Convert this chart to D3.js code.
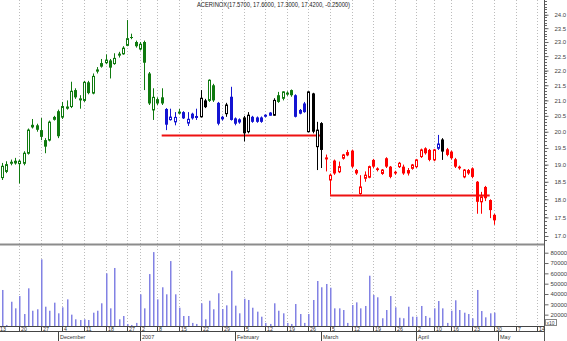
<!DOCTYPE html>
<html><head><meta charset="utf-8">
<script src="https://cdn.jsdelivr.net/npm/d3@7"></script>
<style>
html,body{margin:0;padding:0;background:#fff;}
svg{display:block;font-family:"Liberation Sans",Arial,sans-serif;}
</style></head><body>
<svg id="c" width="567" height="341"></svg>
<script>
const title = "ACERINOX(17.5700, 17.6000, 17.3000, 17.4200, -0.25000)";
const calendarStart = "2006-11-13", calendarEnd = "2007-05-18", dataStart = "2006-11-14";
const holidays = ["2006-12-25","2006-12-26","2007-01-01","2007-04-06","2007-04-09"];
const monthNames = ["2007","February","March","April","May","June","July","August","September","October","November","December"];

const open = [18.62,18.80,19.05,19.05,19.03,19.04,19.34,20.15,20.20,20.05,
19.74,19.74,20.39,20.65,20.46,20.80,20.80,21.34,21.03,21.00,
21.60,21.24,21.98,22.15,22.27,22.35,22.24,22.55,22.58,22.88,
23.18,23.00,22.75,23.00,21.90,20.69,21.04,21.10,20.72,20.38,
20.31,20.60,20.62,20.27,20.57,20.46,20.47,21.00,21.00,21.50,
20.92,20.47,20.57,21.12,20.42,20.39,20.45,20.00,20.47,20.45,
20.45,20.50,20.52,20.52,21.17,21.07,21.22,21.34,21.17,20.69,
20.90,20.00,21.23,19.54,20.27,19.18,18.55,19.12,18.79,19.19,
19.29,19.42,18.84,18.16,18.60,18.63,19.14,18.89,18.74,19.19,
18.94,18.79,18.94,18.94,18.84,18.89,18.94,19.24,19.49,19.44,
19.14,19.49,19.76,19.46,19.39,19.16,18.94,18.64,18.84,18.89,
18.50,17.93,18.35,17.98,17.57];
const high = [19.05,19.10,19.15,19.20,19.15,19.40,20.10,20.40,20.25,20.43,
19.80,20.35,20.50,20.70,20.95,21.00,21.62,21.40,21.17,21.65,
21.65,21.90,22.12,22.40,22.56,22.40,22.60,22.65,22.85,23.80,
23.30,23.05,23.00,23.05,21.95,21.40,21.10,21.40,20.75,20.73,
20.62,20.72,20.65,20.62,20.60,20.73,21.34,21.05,21.70,21.55,
20.95,20.50,20.92,21.45,20.45,20.42,20.50,20.62,20.50,20.48,
20.48,20.55,20.62,21.07,21.28,21.30,21.30,21.36,21.20,20.72,
20.95,21.30,21.25,20.31,20.30,19.30,18.74,19.15,19.09,19.32,
19.44,19.45,18.87,18.69,18.80,18.97,19.17,18.92,18.87,19.22,
18.96,18.82,19.08,19.00,18.90,19.02,19.17,19.48,19.52,19.47,
19.47,19.90,19.80,19.50,19.42,19.20,18.97,18.87,18.87,18.92,
18.52,18.21,18.38,18.00,17.60];
const low = [18.55,18.75,18.98,19.00,18.45,18.98,19.30,20.10,20.00,19.74,
19.34,19.70,20.35,19.80,20.40,20.70,20.75,21.05,20.73,20.95,
21.20,21.20,21.90,22.10,22.22,21.73,22.20,22.45,22.55,22.85,
23.10,22.80,22.70,21.34,20.85,20.37,20.85,20.85,20.05,20.35,
20.20,20.55,20.40,20.18,20.38,20.37,20.45,20.75,20.95,20.95,
20.20,20.35,20.47,20.35,20.20,20.25,19.70,19.95,20.28,20.28,
20.28,20.45,20.50,20.50,20.92,21.00,21.15,21.12,20.45,20.55,
20.60,19.98,19.95,18.84,18.90,18.80,18.13,18.70,18.75,19.15,
19.25,18.90,18.70,18.13,18.50,18.60,18.90,18.80,18.70,18.90,
18.60,18.70,18.90,18.70,18.68,18.85,18.90,19.20,19.30,19.10,
19.10,19.44,19.14,19.25,19.15,18.90,18.85,18.60,18.70,18.60,
17.60,17.60,17.95,17.48,17.30];
const close = [18.95,19.00,19.07,19.10,19.10,19.34,20.05,20.20,20.06,19.84,
19.54,20.30,20.45,19.86,20.80,20.73,21.30,21.10,21.05,21.60,
21.24,21.80,22.02,22.24,22.36,22.10,22.42,22.57,22.78,23.12,
23.15,22.85,22.92,22.27,20.90,21.10,20.90,20.90,20.22,20.46,
20.45,20.62,20.42,20.39,20.42,20.48,21.07,20.78,21.67,21.00,
20.25,20.39,20.85,20.37,20.25,20.29,19.95,20.52,20.31,20.31,
20.31,20.52,20.59,21.00,20.95,21.28,21.24,21.17,20.47,20.57,
20.62,21.28,20.00,20.05,19.44,19.20,18.69,18.74,18.94,19.29,
19.36,18.94,18.74,18.35,18.69,18.94,18.94,18.84,18.84,18.94,
18.64,18.74,19.04,18.74,18.74,18.99,19.14,19.44,19.34,19.14,
19.44,19.62,19.39,19.29,19.19,18.94,18.89,18.84,18.74,18.64,
17.93,18.07,18.03,17.70,17.42];
const volume = [43900,10000,32500,26100,38000,20600,45500,23800,25200,73600,
27700,23800,31600,21300,27100,34800,20000,15500,14800,15500,
14800,21900,23800,31000,60000,26100,65200,15500,18700,11000,
10000,12000,39700,26100,59300,80600,34800,46500,39700,71900,
39700,26700,18700,18700,12000,11000,31000,15500,33500,25200,
40700,25500,29000,62500,28700,21300,35400,34200,26700,22900,
18000,12000,11000,31000,23800,21300,12000,11000,30300,20600,
12000,20600,34200,52600,46500,49700,46100,26100,26100,24500,
12000,29300,31900,26100,28400,57700,39000,36800,16500,24500,
38000,27100,17000,16500,27700,18000,18000,28400,18700,17000,
26100,33200,26100,12000,23800,33900,24500,21900,20600,16500,
43900,23500,17400,21300,21900];
// trend colouring of each candle: g=green, b=blue, k=black, r=red
const trend = ("gggggggggggggggggggggggggggggggggggggg" +
  "bbbgbbbbkkggbbkbbbkkbbbbbkggggbbbkkkk" +
  "rrrrrrrrrrrrrrrrrrrrrrrrrrbk" + "rrrrrrrrrrrr").split("");
const levels = [
  {from:"2007-01-09", to:"2007-03-01", price:19.90},
  {from:"2007-03-05", to:"2007-04-27", price:18.13}
];
const priceTicks = d3.range(17, 24.01, 0.5);
const volTicks = [20000,30000,40000,50000,60000,70000,80000];

const colorMap = {g:"#0f7a0f", b:"#1414d2", k:"#000000", r:"#ff0000"};

// trading calendar
const hol = new Set(holidays);
const dates = [];
for (let d = new Date(calendarStart+"T00:00:00Z"); d <= new Date(calendarEnd+"T00:00:00Z"); d = new Date(d.getTime()+86400000)) {
  const iso = d.toISOString().slice(0,10), wd = d.getUTCDay();
  if (wd !== 0 && wd !== 6 && !hol.has(iso)) dates.push(iso);
}
const idx = iso => dates.indexOf(iso);
const d0 = idx(dataStart);
const data = open.map((o,i)=>({i:d0+i, date:dates[d0+i], o, h:high[i], l:low[i], c:close[i], v:volume[i], col:colorMap[trend[i]]}));

const svg = d3.select("#c");
const W = 567, H = 341, axisX = 544;
const x = d3.scaleLinear().domain([0, idx("2007-04-30")]).range([-2.3, 494]);
const y = d3.scaleLog().domain([17, 24]).range([236, 14.7]);
const yv = d3.scaleLinear().domain([0, 80000]).range([335.3, 252.7]);

svg.append("rect").attr("width",W).attr("height",H).attr("fill","#fff");

// week ticks (first trading day of each week) and month starts (first trading day of month)
const weekIdx = [];
dates.forEach((d,i)=>{
  if (i===0) { weekIdx.push(i); return; }
  const a = new Date(dates[i-1]+"T00:00:00Z"), b = new Date(d+"T00:00:00Z");
  if (b.getUTCDay() <= a.getUTCDay() || (b-a)/86400000 >= 7) weekIdx.push(i);
});
const monthIdx = dates.map((d,i)=>i).filter(i=> i>0 && dates[i].slice(5,7) !== dates[i-1].slice(5,7));

// gridlines
svg.append("g").selectAll("line").data(weekIdx).join("line")
  .attr("x1",i=>Math.round(x(i))+0.5).attr("x2",i=>Math.round(x(i))+0.5)
  .attr("y1",0).attr("y2",326).attr("stroke","#bcbcbc").attr("stroke-dasharray","1,2");

// clips
svg.append("clipPath").attr("id","pc").append("rect").attr("x",0).attr("y",0).attr("width",axisX).attr("height",243);
svg.append("clipPath").attr("id","vc").append("rect").attr("x",0).attr("y",246).attr("width",axisX).attr("height",80);

const pg = svg.append("g").attr("clip-path","url(#pc)");
// support lines
pg.selectAll("line.lvl").data(levels).join("line").attr("class","lvl")
  .attr("x1",d=>x(idx(d.from))).attr("x2",d=>x(idx(d.to)))
  .attr("y1",d=>Math.round(y(d.price))+0.5).attr("y2",d=>Math.round(y(d.price))+0.5)
  .attr("stroke","#ee1111").attr("stroke-width",2);

const cg = pg.selectAll("g.c").data(data).join("g").attr("class","c");
cg.append("line")
  .attr("x1",d=>Math.round(x(d.i))+0.5).attr("x2",d=>Math.round(x(d.i))+0.5)
  .attr("y1",d=>y(d.h)).attr("y2",d=>y(d.l)).attr("stroke",d=>d.col).attr("stroke-width",1);
cg.append("rect")
  .attr("x",d=> d.c>d.o ? Math.round(x(d.i))-0.5 : Math.round(x(d.i))-1)
  .attr("width",d=> d.c>d.o ? 2 : 3)
  .attr("y",d=>y(Math.max(d.o,d.c)))
  .attr("height",d=>Math.max(1, y(Math.min(d.o,d.c))-y(Math.max(d.o,d.c))))
  .attr("fill",d=> d.c>d.o ? "#fff" : d.col)
  .attr("stroke",d=> d.c>d.o ? d.col : "none").attr("stroke-width",1);

// volume bars
svg.append("g").attr("clip-path","url(#vc)").selectAll("rect").data(data).join("rect")
  .attr("x",d=>Math.round(x(d.i))).attr("width",1.5)
  .attr("y",d=>yv(d.v)).attr("height",d=>yv(0)-yv(d.v)).attr("fill","#8282e4");

// panel separator
svg.append("line").attr("x1",0).attr("x2",axisX).attr("y1",244.5).attr("y2",244.5).attr("stroke","#8c8c8c").attr("stroke-width",2);

// right axis line
svg.append("line").attr("x1",axisX+0.5).attr("x2",axisX+0.5).attr("y1",0).attr("y2",H).attr("stroke","#555");

// price axis
const minor = d3.range(16.8, 24.6, 0.1).filter(p=>y(p)>0 && y(p)<243);
svg.append("g").selectAll("line").data(minor).join("line")
  .attr("x1",axisX+1).attr("x2",axisX+3).attr("y1",p=>Math.round(y(p))+0.5).attr("y2",p=>Math.round(y(p))+0.5).attr("stroke","#666");
const pa = svg.append("g").attr("transform",`translate(${axisX+0.5},0)`)
  .call(d3.axisRight(y).tickValues(priceTicks).tickFormat(d3.format(".1f")).tickSize(4).tickPadding(6));
pa.select(".domain").remove();
pa.selectAll("line").attr("stroke","#666");
pa.selectAll("text").attr("font-size","6px").attr("fill","#444").attr("font-family","Liberation Sans, Arial");

// volume axis
const va = svg.append("g").attr("transform",`translate(${axisX+0.5},0)`)
  .call(d3.axisRight(yv).tickValues(volTicks).tickFormat(d3.format("d")).tickSize(4).tickPadding(2));
va.select(".domain").remove();
va.selectAll("line").attr("stroke","#666");
va.selectAll("text").attr("font-size","6px").attr("fill","#444").attr("font-family","Liberation Sans, Arial");
svg.append("rect").attr("x",axisX+1.5).attr("y",319.5).attr("width",11).attr("height",6).attr("fill","none").attr("stroke","#888");
svg.append("text").attr("x",axisX+2.5).attr("y",324.5).attr("font-size","5px").attr("fill","#444").text("x10");

// bottom axis
svg.append("line").attr("x1",0).attr("x2",axisX).attr("y1",326.5).attr("y2",326.5).attr("stroke","#444");
svg.append("line").attr("x1",0).attr("x2",axisX).attr("y1",331.5).attr("y2",331.5).attr("stroke","#444");
const wk = svg.append("g");
wk.selectAll("line").data(weekIdx).join("line")
  .attr("x1",i=>Math.round(x(i))+0.5).attr("x2",i=>Math.round(x(i))+0.5).attr("y1",326).attr("y2",331).attr("stroke","#444");
wk.selectAll("text").data(weekIdx).join("text")
  .attr("x",i=>Math.round(x(i))+2).attr("y",330.8).attr("font-size","5.3px").attr("fill","#333")
  .text(i=>String(+dates[i].slice(8,10)));
const mo = svg.append("g");
mo.selectAll("line").data(monthIdx).join("line")
  .attr("x1",i=>Math.round(x(i))+0.5).attr("x2",i=>Math.round(x(i))+0.5).attr("y1",331).attr("y2",341).attr("stroke","#444");
mo.selectAll("text").data(monthIdx).join("text")
  .attr("x",i=>Math.round(x(i))+2).attr("y",338.5).attr("font-size","5.5px").attr("fill","#333")
  .text(i=>monthNames[(+dates[i].slice(5,7))-1]);

// title
svg.append("text").attr("x",197).attr("y",7).attr("font-size","6.5px").attr("fill","#222")
  .attr("textLength",153).attr("lengthAdjust","spacingAndGlyphs").text(title);
</script>
</body></html>
